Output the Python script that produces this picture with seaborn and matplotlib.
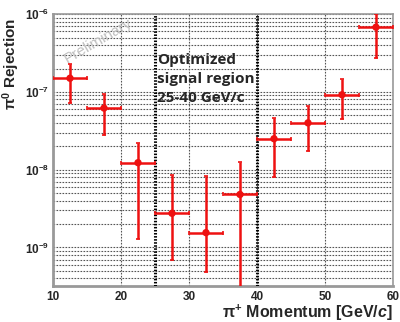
import numpy as np
import pandas as pd
import matplotlib
matplotlib.use("Agg")
import matplotlib.pyplot as plt
import seaborn as sns
from matplotlib.ticker import FixedLocator, FixedFormatter, LogLocator, NullFormatter

# data
momentum = [12.5, 17.5, 22.5, 27.5, 32.5, 37.5, 42.5, 47.5, 52.5, 57.5]
half_width = [2.5] * 10
rejection = [1.5e-7, 6.2e-8, 1.23e-8, 2.75e-9, 1.55e-9, 4.8e-9, 2.5e-8, 4.0e-8, 9.2e-8, 6.8e-7]
err_high = [2.3e-7, 9.4e-8, 2.2e-8, 8.6e-9, 8.3e-9, 1.27e-8, 4.6e-8, 6.6e-8, 1.47e-7, 1.0e-6]
err_low = [7.2e-8, 2.8e-8, 1.27e-9, 6.8e-10, 4.8e-10, 1.0e-10, 8.1e-9, 1.75e-8, 4.5e-8, 2.75e-7]
region = [25, 40]
xticks = [10, 20, 30, 40, 50, 60]
yticks = [1e-9, 1e-8, 1e-7, 1e-6]
ytick_labels = [r'$\mathbf{10^{-9}}$', r'$\mathbf{10^{-8}}$', r'$\mathbf{10^{-7}}$', r'$\mathbf{10^{-6}}$']

df = pd.DataFrame({'p': momentum, 'rej': rejection})

sns.set_style("white")
plt.rcParams['font.family'] = ['Liberation Sans', 'DejaVu Sans']
plt.rcParams['mathtext.fontset'] = 'custom'
plt.rcParams['mathtext.rm'] = 'Liberation Sans'
plt.rcParams['mathtext.bf'] = 'Liberation Sans:bold'
plt.rcParams['mathtext.it'] = 'Liberation Sans:bold:italic'

fig = plt.figure(figsize=(4.0, 3.22), dpi=100)
ax = fig.add_axes([0.1325, 0.112, 0.85, 0.844])
ax.set_yscale('log')

# error bars
rej = np.array(rejection)
yerr = [rej - np.array(err_low), np.array(err_high) - rej]
ax.errorbar(momentum, rejection, xerr=half_width, yerr=yerr, fmt='none',
            ecolor='#ee1111', elinewidth=1.8, capsize=1.5, capthick=1.2, zorder=4)
sns.scatterplot(data=df, x='p', y='rej', color='#ee1111', s=28, edgecolor='none',
                zorder=5, ax=ax)

# signal region boundaries
for xv in region:
    ax.axvline(xv, color='black', lw=2.2, ls=(0, (0.5, 0.5)), zorder=3)

ax.set_xlim(10, 60)
ax.set_ylim(3.2e-10, 1e-6)

ax.xaxis.set_major_locator(FixedLocator(xticks))
ax.xaxis.set_minor_locator(FixedLocator(np.arange(10, 61, 2)))
ax.yaxis.set_major_locator(FixedLocator(yticks))
ax.yaxis.set_major_formatter(FixedFormatter(ytick_labels))
ax.yaxis.set_minor_locator(LogLocator(base=10, subs=np.arange(2, 10), numticks=20))
ax.yaxis.set_minor_formatter(NullFormatter())

ax.grid(True, which='major', axis='both', color='#555555', lw=0.8, ls=(0, (1.5, 1.2)))
ax.grid(True, which='minor', axis='y', color='#555555', lw=0.8, ls=(0, (1.5, 1.2)))
ax.set_axisbelow(True)

ax.tick_params(axis='x', which='both', direction='in', color='#888888', length=5,
               labelsize=8.5, pad=4)
ax.tick_params(axis='x', which='minor', length=3)
ax.tick_params(axis='y', which='major', direction='in', color='#888888', length=5,
               labelsize=8.5, pad=3)
ax.tick_params(axis='y', which='minor', direction='in', color='#888888', length=3)
for lab in ax.get_xticklabels():
    lab.set_fontweight('bold')
for s in ax.spines.values():
    s.set_color('#999999')
    s.set_linewidth(1.2)
ax.spines['left'].set_linewidth(2)
ax.spines['bottom'].set_linewidth(2)

ax.set_xlabel(r'$\mathbf{\pi^{+}}$ Momentum [GeV/$\mathit{c}$]', fontsize=11.5,
              fontweight='bold', ha='right', va='top')
ax.xaxis.set_label_coords(1.0, -0.06)
ax.set_ylabel(r'$\mathbf{\pi^{0}}$ Rejection', fontsize=11, fontweight='bold',
              va='bottom', ha='center')
ax.yaxis.set_label_coords(-0.092, 0.816)

ax.text(25.3, 1.45e-7, 'Optimized\nsignal region\n25-40 GeV/c', fontsize=11,
        fontweight='bold', family=['Open Sans', 'DejaVu Sans'], va='center',
        ha='left', linespacing=1.45, zorder=6)
ax.text(16.6, 4.6e-7, 'Preliminary', fontsize=11, color='#c0c0c0', rotation=30,
        ha='center', va='center', zorder=2)

fig.savefig('out.png', dpi=100)
